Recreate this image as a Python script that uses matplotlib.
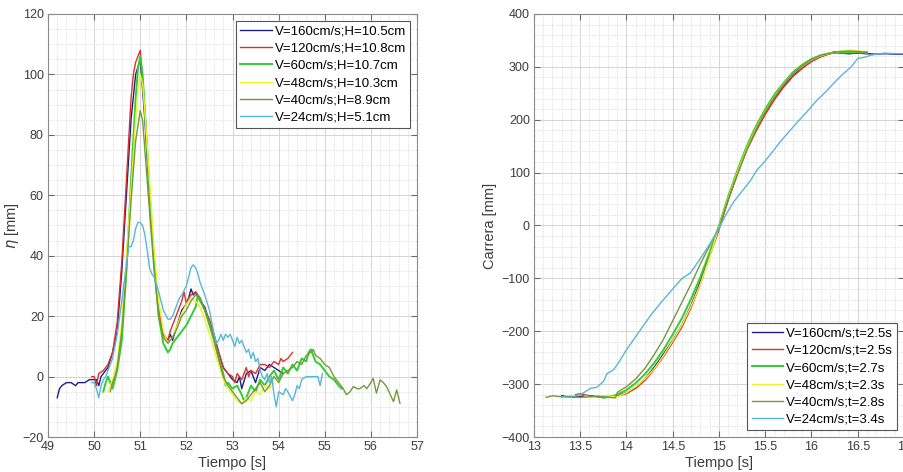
import matplotlib
matplotlib.use('Agg')
import matplotlib.pyplot as plt
from matplotlib.ticker import MultipleLocator, FormatStrFormatter

plt.rcParams['font.family'] = ['Liberation Sans', 'DejaVu Sans']

# Colores de las series
colores = ['#1f1f80', '#d9322e', '#33cc33', '#f2f02a', '#76973a', '#55b8d9']

# ---- Panel izquierdo: elevacion eta [mm] ----
etiquetas_eta = ['V=160cm/s;H=10.5cm', 'V=120cm/s;H=10.8cm', 'V=60cm/s;H=10.7cm',
                 'V=48cm/s;H=10.3cm', 'V=40cm/s;H=8.9cm', 'V=24cm/s;H=5.1cm']

t_160 = [49.2, 49.25, 49.3, 49.4, 49.5, 49.6, 49.65, 49.7, 49.8, 49.9, 50.0, 50.05, 50.1, 50.15,
         50.2, 50.3, 50.4, 50.5, 50.6, 50.7, 50.8, 50.9, 51.0, 51.1, 51.2, 51.3, 51.4, 51.5, 51.6,
         51.65, 51.7, 51.8, 51.9, 52.0, 52.05, 52.1, 52.15, 52.2, 52.3, 52.4, 52.5, 52.6, 52.7,
         52.8, 52.9, 53.0, 53.1, 53.15, 53.2, 53.3, 53.4, 53.5, 53.6, 53.7, 53.8, 53.9, 54.0, 54.1]
eta_160 = [-7, -4, -3, -2, -2, -3, -2, -2, -2, -1, -1, -1, -3, 0,
           1, 3, 8, 15, 35, 60, 85, 100, 105, 85, 60, 38, 22, 14, 12,
           14, 12, 17, 22, 24, 26, 29, 27, 28, 25, 23, 18, 14, 8,
           3, 1, -1, -2, 0, -4, 1, 2, -2, 3, 2, 4, 3, 2, 1]

t_120 = [49.95, 50.0, 50.05, 50.1, 50.2, 50.3, 50.4, 50.5, 50.6, 50.7, 50.8, 50.85, 50.9, 50.95,
         51.0, 51.1, 51.2, 51.3, 51.4, 51.5, 51.6, 51.65, 51.7, 51.8, 51.9, 51.95, 52.0, 52.05,
         52.1, 52.2, 52.3, 52.4, 52.5, 52.6, 52.7, 52.8, 52.9, 53.0, 53.05, 53.1, 53.2, 53.3,
         53.35, 53.4, 53.5, 53.6, 53.7, 53.8, 53.9, 54.0, 54.05, 54.1, 54.2, 54.3]
eta_120 = [0, 0, -3, 1, 2, 4, 8, 18, 38, 65, 92, 100, 104, 106,
           108, 88, 62, 38, 22, 14, 12, 15, 17, 21, 25, 28, 24, 26,
           27, 28, 26, 22, 19, 13, 8, 3, 1, 0, -2, 1, -1, 3,
           0, 2, 1, 4, 4, 3, 5, 4, 6, 5, 6, 8]

t_60 = [50.2, 50.25, 50.3, 50.35, 50.4, 50.45, 50.5, 50.6, 50.7, 50.8, 50.9, 50.95, 51.0, 51.05,
        51.1, 51.2, 51.3, 51.4, 51.5, 51.6, 51.65, 51.7, 51.8, 51.9, 52.0, 52.1, 52.2, 52.25,
        52.3, 52.4, 52.5, 52.6, 52.7, 52.8, 52.85, 52.9, 53.0, 53.1, 53.2, 53.25, 53.3, 53.4,
        53.5, 53.6, 53.7, 53.8, 53.9, 54.0, 54.1, 54.2, 54.3, 54.4, 54.5, 54.6, 54.65, 54.7,
        54.75, 54.8, 54.9, 55.0, 55.1, 55.2, 55.3, 55.37]
eta_60 = [-5, -2, 0, -2, -4, -1, 2, 12, 35, 65, 92, 102, 106, 100,
          88, 62, 38, 20, 11, 8, 9, 11, 13, 15, 17, 20, 23, 27,
          25, 22, 17, 12, 6, 1, -3, -2, -4, -3, -6, -8, -7, -3,
          -5, -1, -3, 0, 2, -1, 3, 1, 4, 2, 6, 5, 8, 9,
          7, 5, 4, 2, 0, -1, -3, -4]

t_48 = [50.3, 50.35, 50.4, 50.5, 50.6, 50.7, 50.8, 50.9, 50.95, 51.0, 51.05, 51.1, 51.2, 51.3,
        51.4, 51.5, 51.6, 51.7, 51.8, 51.9, 52.0, 52.1, 52.2, 52.3, 52.4, 52.5, 52.6, 52.7,
        52.8, 52.9, 53.0, 53.1, 53.2, 53.3, 53.4, 53.5, 53.6, 53.7, 53.8, 53.9]
eta_48 = [-5, -3, -1, 5, 18, 40, 62, 85, 95, 100, 97, 88, 65, 42,
          25, 15, 11, 13, 17, 21, 24, 26, 25, 23, 19, 14, 9, 4,
          -1, -4, -6, -8, -9, -7, -8, -5, -6, -3, -4, -2]

t_40 = [50.35, 50.4, 50.45, 50.5, 50.6, 50.7, 50.8, 50.9, 51.0, 51.05, 51.1, 51.2, 51.3, 51.4,
        51.5, 51.6, 51.7, 51.8, 51.9, 52.0, 52.1, 52.2, 52.3, 52.4, 52.5, 52.6, 52.7, 52.8,
        52.9, 53.0, 53.1, 53.2, 53.3, 53.4, 53.5, 53.6, 53.7, 53.8, 53.9, 54.0, 54.1, 54.2,
        54.3, 54.4, 54.5, 54.6, 54.7, 54.75, 54.8, 54.9, 55.0, 55.1, 55.2, 55.3, 55.4, 55.47,
        55.55, 55.62, 55.7, 55.76, 55.85, 55.91, 56.0, 56.05, 56.12, 56.2, 56.27, 56.34, 56.42,
        56.49, 56.56, 56.63]
eta_40 = [-5, -2, 0, 3, 15, 35, 58, 78, 88, 85, 75, 55, 35, 20,
          13, 11, 13, 16, 20, 22, 25, 27, 26, 22, 18, 12, 6, 0,
          -3, -5, -7, -9, -8, -6, -4, -2, -5, -3, 0, -2, 1, 2,
          3, 5, 4, 7, 8, 9, 7, 6, 4, 3, 0, -2, -4, -6,
          -5, -3.3, -4, -4, -3, -4, -2, -0.6, -5.5, -1.1, -2, -3.3, -6,
          -8.3, -4.4, -8.8]

t_24 = [49.95, 50.0, 50.05, 50.1, 50.15, 50.2, 50.25, 50.3, 50.4, 50.5, 50.6, 50.7, 50.75, 50.8,
        50.85, 50.9, 50.95, 51.0, 51.05, 51.1, 51.15, 51.2, 51.25, 51.3, 51.4, 51.5, 51.6, 51.65,
        51.7, 51.8, 51.85, 51.9, 52.0, 52.05, 52.1, 52.15, 52.2, 52.25, 52.3, 52.4, 52.5, 52.55,
        52.6, 52.65, 52.7, 52.75, 52.8, 52.85, 52.9, 52.95, 53.0, 53.05, 53.1, 53.15, 53.2, 53.3,
        53.35, 53.4, 53.45, 53.5, 53.55, 53.6, 53.65, 53.7, 53.75, 53.8, 53.85, 53.9, 53.95, 54.0,
        54.1, 54.15, 54.2, 54.3, 54.35, 54.4, 54.45, 54.5, 54.6, 54.7, 54.8, 54.85, 54.9, 54.95]
eta_24 = [-2, -2, -4, -7, -3, -1, 0, 2, 6, 14, 25, 37, 43, 43,
          45, 49, 51, 51, 50, 47, 42, 36, 34, 33, 28, 22, 19, 19,
          20, 24, 26, 27, 30, 33, 36, 37, 36, 34, 31, 27, 22, 18,
          14, 11, 12, 14, 12, 14, 13, 14, 12, 10, 13, 11, 12, 8,
          9, 6, 8, 5, 6, 2, 0, -1, 1, -2, 0, -6, -10, -5,
          -6, -4, -5, -8, -6, -3, -4, -1, 0, 0, 0, 0, -3, 1]

# ---- Panel derecho: carrera del piston [mm] ----
etiquetas_carrera = ['V=160cm/s;t=2.5s', 'V=120cm/s;t=2.5s', 'V=60cm/s;t=2.7s',
                     'V=48cm/s;t=2.3s', 'V=40cm/s;t=2.8s', 'V=24cm/s;t=3.4s']

tc_160 = [13.3, 13.4, 13.5, 13.6, 13.7, 13.8, 13.9, 14.0, 14.1, 14.2, 14.3, 14.4, 14.5, 14.6,
          14.7, 14.8, 14.9, 15.0, 15.1, 15.2, 15.3, 15.4, 15.5, 15.6, 15.7, 15.8, 15.9, 16.0,
          16.1, 16.2, 16.25, 16.3, 16.4, 16.5, 16.6, 16.7, 16.8, 16.9, 17.0]
c_160 = [-322, -325, -323, -322, -324, -324, -322, -316, -306, -290, -268, -243, -217, -188,
         -150, -105, -55, -5, 50, 100, 145, 182, 213, 241, 264, 284, 299, 311,
         320, 325, 329, 326, 325, 326, 325, 324, 325, 324, 324]

tc_120 = [13.45, 13.5, 13.6, 13.7, 13.8, 13.9, 14.0, 14.1, 14.2, 14.3, 14.4, 14.5, 14.6, 14.7,
          14.8, 14.9, 15.0, 15.1, 15.2, 15.3, 15.4, 15.5, 15.6, 15.7, 15.8, 15.9, 16.0, 16.1,
          16.2, 16.3, 16.4, 16.5, 16.6]
c_120 = [-320, -318, -322, -324, -322, -323, -318, -308, -293, -272, -248, -221, -192, -155,
         -110, -58, -8, 48, 97, 142, 178, 210, 238, 262, 282, 297, 310, 319,
         325, 327, 325, 326, 325]

tc_60 = [13.7, 13.75, 13.8, 13.9, 14.0, 14.1, 14.2, 14.3, 14.4, 14.5, 14.6, 14.7, 14.8, 14.9,
         15.0, 15.1, 15.2, 15.3, 15.4, 15.5, 15.6, 15.7, 15.8, 15.9, 16.0, 16.1, 16.2, 16.3,
         16.4, 16.5, 16.6]
c_60 = [-323, -326, -324, -320, -311, -298, -281, -260, -235, -206, -175, -138, -97, -50,
        0, 55, 105, 150, 188, 220, 248, 270, 290, 304, 315, 322, 326, 327,
        328, 329, 327]

tc_48 = [13.55, 13.6, 13.7, 13.8, 13.9, 14.0, 14.1, 14.2, 14.3, 14.4, 14.5, 14.6, 14.7, 14.8,
         14.9, 15.0, 15.1, 15.2, 15.3, 15.4, 15.5, 15.6, 15.7, 15.8, 15.9, 16.0, 16.1, 16.2,
         16.3, 16.4, 16.45, 16.5, 16.55]
c_48 = [-322, -324, -323, -322, -324, -316, -305, -290, -271, -246, -218, -188, -152, -110,
        -60, -2, 52, 102, 146, 184, 216, 244, 268, 287, 301, 313, 321, 326,
        329, 331, 332, 330, 329]

tc_40 = [13.13, 13.2, 13.3, 13.4, 13.5, 13.6, 13.7, 13.8, 13.88, 13.9, 13.95, 14.0, 14.1, 14.2,
         14.3, 14.4, 14.5, 14.6, 14.7, 14.8, 14.9, 15.0, 15.1, 15.2, 15.3, 15.4, 15.5, 15.6,
         15.7, 15.8, 15.9, 16.0, 16.1, 16.2, 16.3, 16.4, 16.5, 16.6]
c_40 = [-325, -322, -324, -323, -325, -324, -323, -325, -326, -316, -310, -305, -290, -270,
        -244, -215, -180, -145, -110, -72, -38, -4, 50, 98, 143, 182, 215, 243,
        267, 287, 302, 314, 322, 326, 329, 330, 329, 328]

tc_24 = [13.3, 13.4, 13.53, 13.61, 13.68, 13.75, 13.79, 13.86, 13.93, 14.0, 14.1, 14.18, 14.26,
         14.33, 14.4, 14.5, 14.6, 14.69, 14.8, 14.9, 14.98, 15.08, 15.16, 15.25, 15.34, 15.41,
         15.49, 15.58, 15.67, 15.76, 15.85, 15.95, 16.06, 16.15, 16.24, 16.33, 16.43, 16.5,
         16.57, 16.64, 16.7, 16.79, 16.9, 17.0]
c_24 = [-324, -325, -317, -308, -306, -295, -280, -273, -255, -235, -210, -190, -170,
        -155, -140, -120, -100, -90, -62, -35, -12, 22, 45, 65, 85, 105,
        120, 140, 160, 178, 196, 215, 237, 252, 269, 285, 300, 316,
        318, 322, 324, 326, 325, 325]

series_eta = [(t_160, eta_160), (t_120, eta_120), (t_60, eta_60),
              (t_48, eta_48), (t_40, eta_40), (t_24, eta_24)]
series_carrera = [(tc_160, c_160), (tc_120, c_120), (tc_60, c_60),
                  (tc_48, c_48), (tc_40, c_40), (tc_24, c_24)]


def estilo_matlab(ax):
    """Ejes con caja, rejilla mayor y menor al estilo MATLAB"""
    for spine in ax.spines.values():
        spine.set_color('#8a8a8a')
        spine.set_linewidth(0.8)
    ax.tick_params(which='major', direction='in', length=4, top=True, right=True,
                   color='#6a6a6a', labelcolor='#3c3c3c', labelsize=9, pad=3)
    ax.tick_params(which='minor', length=0, top=True, right=True)
    ax.grid(True, which='major', color='#d4d4d4', linewidth=0.7, linestyle='-')
    ax.grid(True, which='minor', color='#dcdcdc', linewidth=0.6, linestyle=(0, (1.5, 1.5)))
    ax.set_axisbelow(True)


fig = plt.figure(figsize=(9.04, 4.72), dpi=100)
ax1 = fig.add_axes([48 / 904, 35 / 472, 369 / 904, 423 / 472])
ax2 = fig.add_axes([534 / 904, 35 / 472, 370 / 904, 423 / 472])

for (t, y), color, etiqueta in zip(series_eta, colores, etiquetas_eta):
    lw = 1.4 if color == '#33cc33' else 1.0
    ax1.plot(t, y, color=color, linewidth=lw, label=etiqueta)

ax1.set_xlim(49, 57)
ax1.set_ylim(-20, 120)
ax1.xaxis.set_major_locator(MultipleLocator(1))
ax1.xaxis.set_minor_locator(MultipleLocator(0.2))
ax1.yaxis.set_major_locator(MultipleLocator(20))
ax1.yaxis.set_minor_locator(MultipleLocator(5))
estilo_matlab(ax1)
ax1.set_xlabel('Tiempo [s]', fontsize=10.5, color='#3c3c3c', labelpad=2)
ax1.set_ylabel(r'$\eta$ [mm]', fontsize=10.5, color='#3c3c3c', labelpad=1)
leg1 = ax1.legend(loc='upper right', fontsize=9.5, handlelength=2.4, handletextpad=0.2,
                  labelspacing=0.38, borderpad=0.35, borderaxespad=0.5, fancybox=False,
                  framealpha=1, edgecolor='#555555')
leg1.get_frame().set_linewidth(0.8)

for (t, y), color, etiqueta in zip(series_carrera, colores, etiquetas_carrera):
    lw = 1.4 if color == '#33cc33' else 1.0
    ax2.plot(t, y, color=color, linewidth=lw, label=etiqueta)

ax2.set_xlim(13, 17)
ax2.set_ylim(-400, 400)
ax2.xaxis.set_major_locator(MultipleLocator(0.5))
ax2.xaxis.set_minor_locator(MultipleLocator(0.1))
ax2.xaxis.set_major_formatter(FormatStrFormatter('%g'))
ax2.yaxis.set_major_locator(MultipleLocator(100))
ax2.yaxis.set_minor_locator(MultipleLocator(20))
estilo_matlab(ax2)
ax2.set_xlabel('Tiempo [s]', fontsize=10.5, color='#3c3c3c', labelpad=2)
ax2.set_ylabel('Carrera [mm]', fontsize=10.5, color='#3c3c3c', labelpad=3)
leg2 = ax2.legend(loc='lower right', fontsize=9.5, handlelength=2.4, handletextpad=0.2,
                  labelspacing=0.38, borderpad=0.35, borderaxespad=0.5, fancybox=False,
                  framealpha=1, edgecolor='#555555')
leg2.get_frame().set_linewidth(0.8)

fig.savefig('out.png', dpi=100)
